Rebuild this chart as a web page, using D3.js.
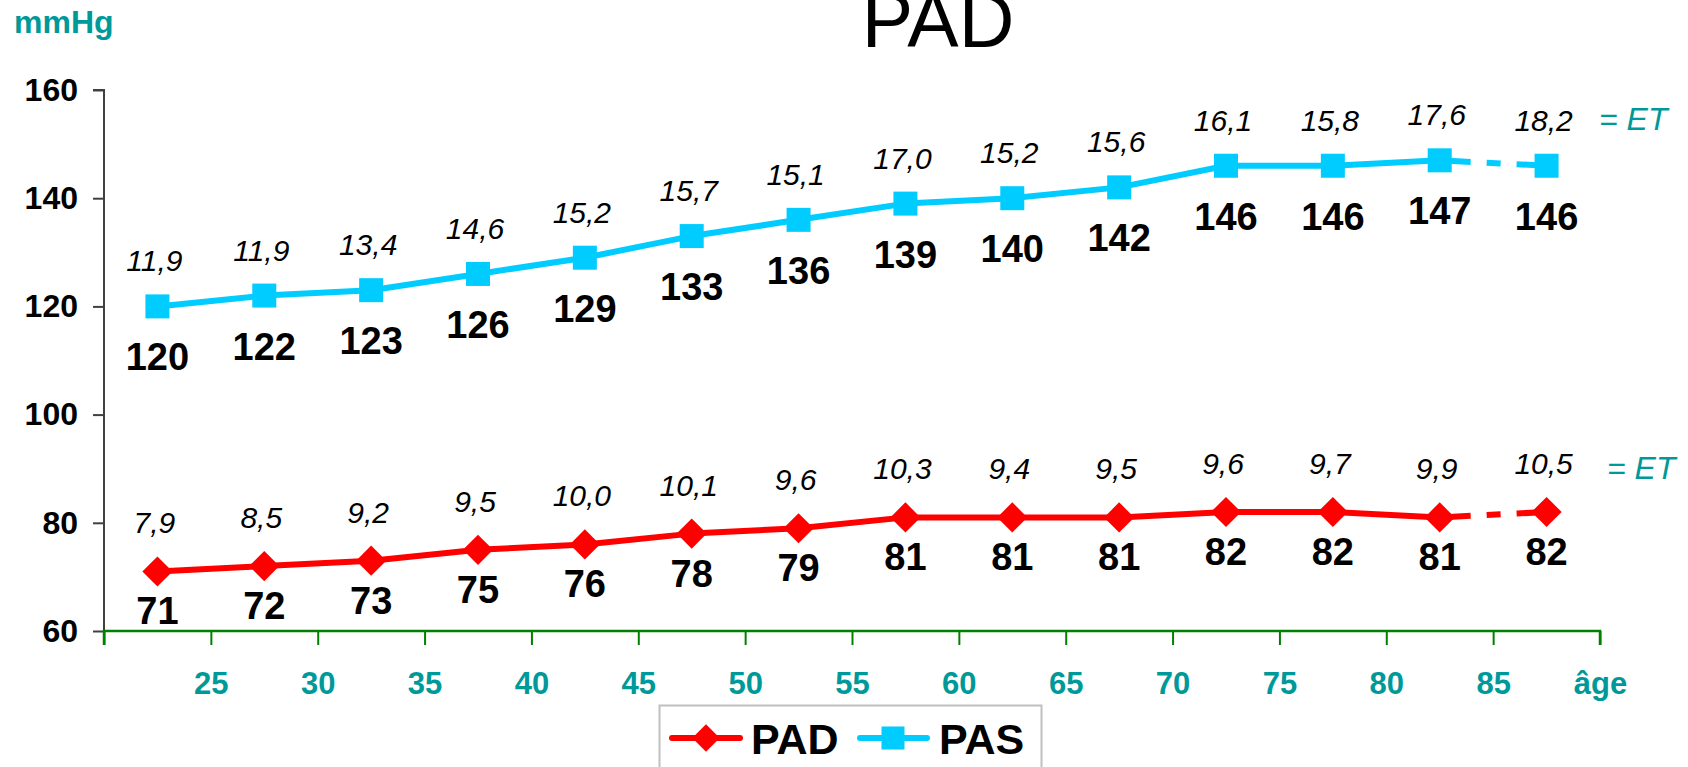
<!DOCTYPE html>
<html>
<head>
<meta charset="utf-8">
<script src="https://cdn.jsdelivr.net/npm/d3@7"></script>
<style>
  html, body { margin: 0; padding: 0; background: #fff; }
  svg { display: block; font-family: "Liberation Sans", Arial, sans-serif; }
</style>
</head>
<body>
<svg id="chart" width="1688" height="767"></svg>
<script>
// ---- data ----
const categories = ["20-24","25-29","30-34","35-39","40-44","45-49","50-54","55-59","60-64","65-69","70-74","75-79","80-84","85-89"];
const tickLabels = ["", "25", "30", "35", "40", "45", "50", "55", "60", "65", "70", "75", "80", "85", "âge"];
const padValues = [71, 72, 73, 75, 76, 78, 79, 81, 81, 81, 82, 82, 81, 82];
const pasValues = [120, 122, 123, 126, 129, 133, 136, 139, 140, 142, 146, 146, 147, 146];
const padSD = [7.9, 8.5, 9.2, 9.5, 10.0, 10.1, 9.6, 10.3, 9.4, 9.5, 9.6, 9.7, 9.9, 10.5];
const pasSD = [11.9, 11.9, 13.4, 14.6, 15.2, 15.7, 15.1, 17.0, 15.2, 15.6, 16.1, 15.8, 17.6, 18.2];
const yTicks = [60, 80, 100, 120, 140, 160];

// ---- layout ----
const svg = d3.select("#chart");
const TEAL = "#009999", RED = "#ff0000", CYAN = "#00ccff";
const x = d3.scaleLinear().domain([0, categories.length]).range([104, 1600]);
const y = d3.scaleLinear().domain([60, 160]).range([631, 90]);
const cx = i => x(i + 0.5);
const fmt = v => v.toFixed(1).replace(".", ",");

// title
svg.append("text").attr("x", 938).attr("y", 47).attr("text-anchor", "middle")
  .attr("font-size", 77).attr("fill", "#000").text("PAD");
svg.append("text").attr("x", 14).attr("y", 33)
  .attr("font-size", 32).attr("font-weight", "bold").attr("fill", TEAL).text("mmHg");

// y axis
const yAxis = svg.append("g").attr("transform", `translate(${x(0)},0)`)
  .call(d3.axisLeft(y).tickValues(yTicks).tickSize(11).tickPadding(15).tickFormat(d3.format("d")));
yAxis.select(".domain").attr("stroke", "#404040").attr("stroke-width", 2).attr("d", `M-11,${y(160)}H0V${y(60)}`);
yAxis.selectAll(".tick line").attr("stroke", "#404040").attr("stroke-width", 2);
yAxis.selectAll(".tick text").attr("font-size", 32).attr("font-weight", "bold")
  .attr("fill", "#000").attr("font-family", "Liberation Sans, Arial, sans-serif");

// x axis
const xAxis = svg.append("g").attr("transform", `translate(0,${y(60)})`)
  .call(d3.axisBottom(x).tickValues(d3.range(0, categories.length + 1))
    .tickSize(14).tickPadding(27).tickFormat(i => tickLabels[i]));
xAxis.select(".domain").attr("stroke", "#008000").attr("stroke-width", 2.5).attr("d", `M${x(0)},14V0H${x(categories.length)}V14`);
xAxis.selectAll(".tick line").attr("stroke", "#008000").attr("stroke-width", 2);
xAxis.selectAll(".tick text").attr("font-size", 31).attr("font-weight", "bold")
  .attr("fill", TEAL).attr("font-family", "Liberation Sans, Arial, sans-serif");

// series drawing
const line = d3.line().x(d => cx(d.i)).y(d => y(d.v));
function drawSeries(values, color, width) {
  const pts = values.map((v, i) => ({ v, i }));
  const n = pts.length;
  svg.append("path").datum(pts.slice(0, n - 1)).attr("d", line)
    .attr("fill", "none").attr("stroke", color).attr("stroke-width", width).attr("stroke-linejoin", "round");
  svg.append("path").datum(pts.slice(n - 2)).attr("d", line)
    .attr("fill", "none").attr("stroke", color).attr("stroke-width", width)
    .attr("stroke-dasharray", "31,16,14,16,60");
  return pts;
}

const padPts = drawSeries(padValues, RED, 6);
const pasPts = drawSeries(pasValues, CYAN, 6);

// markers
svg.append("g").selectAll("path").data(padPts).join("path")
  .attr("d", d3.symbol(d3.symbolDiamond2, 580)())
  .attr("transform", d => `translate(${cx(d.i)},${y(d.v)})`)
  .attr("fill", RED);
svg.append("g").selectAll("rect").data(pasPts).join("rect")
  .attr("x", d => cx(d.i) - 12).attr("y", d => y(d.v) - 12)
  .attr("width", 24).attr("height", 24).attr("fill", CYAN);

// value labels
svg.append("g").selectAll("text").data(padPts).join("text")
  .attr("x", d => cx(d.i)).attr("y", d => y(d.v) + 53).attr("text-anchor", "middle")
  .attr("font-size", 38).attr("font-weight", "bold").attr("fill", "#000").text(d => d.v);
svg.append("g").selectAll("text").data(pasPts).join("text")
  .attr("x", d => cx(d.i)).attr("y", d => y(d.v) + 64).attr("text-anchor", "middle")
  .attr("font-size", 38).attr("font-weight", "bold").attr("fill", "#000").text(d => d.v);

// SD labels
svg.append("g").selectAll("text").data(padPts).join("text")
  .attr("x", d => cx(d.i) - 3).attr("y", d => y(d.v) - 38).attr("text-anchor", "middle")
  .attr("font-size", 30).attr("font-style", "italic").attr("fill", "#000").text(d => fmt(padSD[d.i]));
svg.append("g").selectAll("text").data(pasPts).join("text")
  .attr("x", d => cx(d.i) - 3).attr("y", d => y(d.v) - 35).attr("text-anchor", "middle")
  .attr("font-size", 30).attr("font-style", "italic").attr("fill", "#000").text(d => fmt(pasSD[d.i]));

// "= ET" notes
svg.append("text").attr("x", 1599).attr("y", 130).attr("font-size", 32).attr("font-style", "italic")
  .attr("fill", TEAL).text("= ET");
svg.append("text").attr("x", 1607).attr("y", 479).attr("font-size", 32).attr("font-style", "italic")
  .attr("fill", TEAL).text("= ET");

// legend
const lg = svg.append("g");
lg.append("rect").attr("x", 659.5).attr("y", 705.5).attr("width", 382).attr("height", 80)
  .attr("fill", "#fff").attr("stroke", "#c0c0c0").attr("stroke-width", 2);
lg.append("line").attr("x1", 672).attr("x2", 740).attr("y1", 738).attr("y2", 738)
  .attr("stroke", RED).attr("stroke-width", 6).attr("stroke-linecap", "round");
lg.append("path").attr("d", d3.symbol(d3.symbolDiamond2, 480)())
  .attr("transform", "translate(706,738)").attr("fill", RED);
lg.append("text").attr("x", 751).attr("y", 754).attr("font-size", 43).attr("font-weight", "bold").text("PAD");
lg.append("line").attr("x1", 860).attr("x2", 927).attr("y1", 738).attr("y2", 738)
  .attr("stroke", CYAN).attr("stroke-width", 6).attr("stroke-linecap", "round");
lg.append("rect").attr("x", 893 - 11.5).attr("y", 738 - 11.5).attr("width", 23).attr("height", 23).attr("fill", CYAN);
lg.append("text").attr("x", 939).attr("y", 754).attr("font-size", 43).attr("font-weight", "bold").text("PAS");
</script>
</body>
</html>
